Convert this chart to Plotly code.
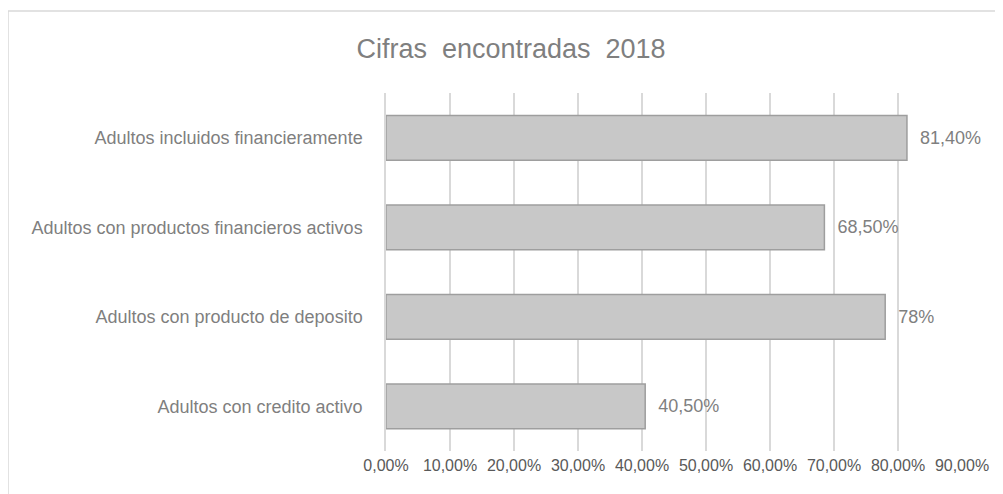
import plotly.graph_objects as go

categorias = [
    "Adultos incluidos financieramente",
    "Adultos con productos financieros activos",
    "Adultos con producto de deposito",
    "Adultos con credito activo",
]
valores = [0.814, 0.685, 0.78, 0.405]
etiquetas = ["81,40%", "68,50%", "78%", "40,50%"]
ticks = [0, 0.1, 0.2, 0.3, 0.4, 0.5, 0.6, 0.7, 0.8, 0.9]

gris = "#7f7f7f"
gris_osc = "#595959"
fuente = "Liberation Sans"

# la página añade 8px de margen, por eso se corrigen los márgenes
L, R, T, B = 378, 49, 85, 51
ancho = 1003 - L - R
alto = 494 - T - B

fig = go.Figure()

fig.add_trace(
    go.Bar(
        x=valores,
        y=categorias,
        orientation="h",
        marker=dict(color="#c8c8c8", line=dict(color="#9e9e9e", width=1.5)),
        text=etiquetas,
        texttemplate="\u00a0\u00a0%{text}",
        textposition="outside",
        textfont=dict(color=gris, size=18, family=fuente),
        cliponaxis=False,
        hovertemplate="%{y}: %{text}<extra></extra>",
    )
)

fig.update_layout(
    width=1003,
    height=494,
    margin=dict(l=L, r=R, t=T, b=B),
    paper_bgcolor="white",
    plot_bgcolor="white",
    separators=",.",
    bargap=0.5,
    showlegend=False,
    title=dict(
        text="Cifras  encontradas  2018",
        x=503 / 1003,
        xanchor="center",
        y=1 - 41 / 494,
        yanchor="middle",
        font=dict(size=27, color=gris, family=fuente),
    ),
    xaxis=dict(
        range=[0, 0.9],
        tickvals=ticks,
        tickformat=".2%",
        showgrid=True,
        gridcolor="#d9d9d9",
        gridwidth=1.5,
        zeroline=False,
        showline=False,
        tickfont=dict(size=16, color=gris_osc, family=fuente),
        ticklabelstandoff=3,
    ),
    yaxis=dict(
        autorange="reversed",
        showgrid=False,
        showline=True,
        linecolor="#d9d9d9",
        linewidth=1.5,
        tickfont=dict(size=18, color=gris, family=fuente),
        ticklabelstandoff=18,
    ),
    shapes=[
        dict(
            type="rect",
            xref="paper",
            yref="paper",
            x0=(0 - L) / ancho,
            x1=1.2,
            y0=-0.3,
            y1=(494 - B - 3) / alto,
            line=dict(color="#d9d9d9", width=1.5),
            fillcolor="rgba(0,0,0,0)",
            layer="below",
        )
    ],
)

fig.write_html("out.html")
